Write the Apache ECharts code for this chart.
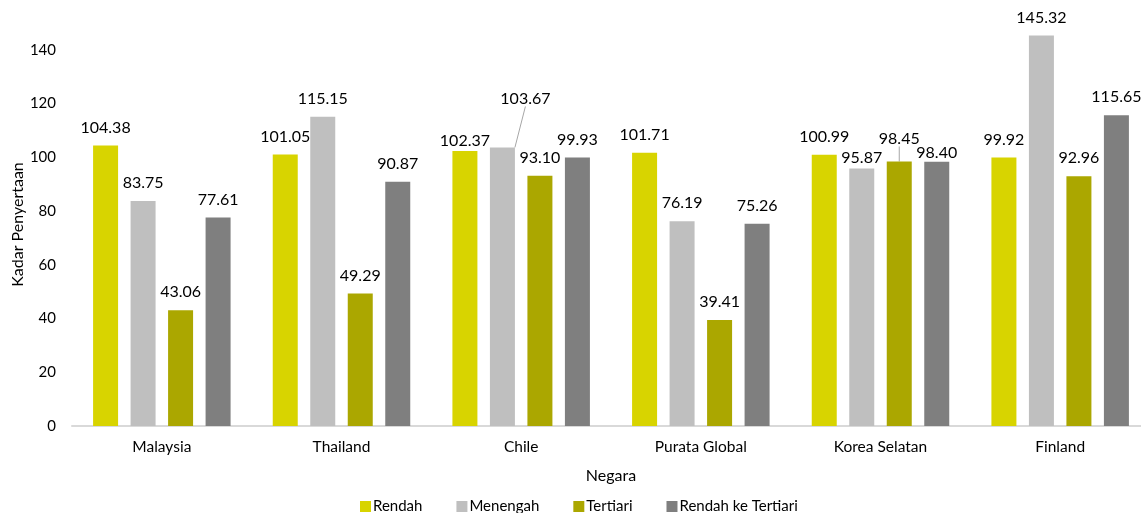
<!DOCTYPE html>
<html>
<head>
<meta charset="utf-8">
<script src="https://cdn.jsdelivr.net/npm/echarts@6/dist/echarts.min.js"></script>
<style>html,body{margin:0;padding:0;background:#fff}#c{width:1141px;height:513px}</style>
</head>
<body>
<div id="c"></div>
<script>
const categories = ['Malaysia', 'Thailand', 'Chile', 'Purata Global', 'Korea Selatan', 'Finland'];
const seriesNames = ['Rendah', 'Menengah', 'Tertiari', 'Rendah ke Tertiari'];
const rendah = [104.38, 101.05, 102.37, 101.71, 100.99, 99.92];
const menengah = [83.75, 115.15, 103.67, 76.19, 95.87, 145.32];
const tertiari = [43.06, 49.29, 93.10, 39.41, 98.45, 92.96];
const rendahKeTertiari = [77.61, 90.87, 99.93, 75.26, 98.40, 115.65];
const yTicks = [0, 20, 40, 60, 80, 100, 120, 140];

const colors = ['#D8D400', '#BFBFBF', '#ABA700', '#7F7F7F'];
const allData = [rendah, menengah, tertiari, rendahKeTertiari];
const FONT = 'Lato';

// manual label adjustments (series-dataIndex -> offset), leader lines where moved up far
const labelDy = {'0-2': 8, '1-2': -31, '1-4': 7, '2-4': -5, '3-4': 9};
const labelDx = {'1-2': 23};
const leader = {'1-2': true, '2-4': true};

const chart = echarts.init(document.getElementById('c'), null, {renderer: 'canvas'});
chart.setOption({
  animation: false,
  color: colors,
  grid: {left: 72, right: -9, top: 23, bottom: 87, containLabel: false, outerBoundsMode: 'none'},
  legend: {
    bottom: -6, left: 355,
    itemWidth: 11, itemHeight: 11, itemGap: 34,
    icon: 'rect',
    textStyle: {fontFamily: FONT, fontSize: 15, color: '#000', padding: [0, 0, 0, -3]},
    data: seriesNames
  },
  xAxis: {
    type: 'category', data: categories,
    name: 'Negara', nameLocation: 'middle', nameGap: 42, nameMoveOverlap: false,
    nameTextStyle: {fontFamily: FONT, fontSize: 16, color: '#000'},
    axisLine: {lineStyle: {color: '#D9D9D9', width: 2}},
    axisTick: {show: false},
    axisLabel: {fontFamily: FONT, fontSize: 15.5, color: '#000', margin: 13}
  },
  yAxis: {
    type: 'value', min: 0, max: 150, interval: 20,
    name: 'Kadar Penyertaan', nameLocation: 'middle', nameGap: 46, nameRotate: 90, nameMoveOverlap: false,
    nameTextStyle: {fontFamily: FONT, fontSize: 16, color: '#000'},
    axisLine: {show: false}, axisTick: {show: false}, splitLine: {show: false},
    axisLabel: {
      fontFamily: FONT, fontSize: 15, color: '#000', margin: 16, showMaxLabel: false,
      formatter: v => (yTicks.indexOf(v) >= 0 ? String(v) : '')
    }
  },
  series: allData.map((arr, si) => ({
    name: seriesNames[si],
    type: 'bar',
    barWidth: 25,
    barGap: '50%',
    data: arr.map((v, di) => {
      const key = si + '-' + di;
      if (leader[key]) return {value: v, labelLine: {show: true, lineStyle: {color: '#A6A6A6', width: 1}}};
      return v;
    }),
    label: {
      show: true, position: 'top', distance: 10,
      fontFamily: FONT, fontSize: 16, color: '#000',
      formatter: p => p.value.toFixed(2)
    },
    labelLayout: p => {
      const key = si + '-' + p.dataIndex;
      const o = {};
      if (labelDy[key]) o.dy = labelDy[key];
      if (labelDx[key]) o.dx = labelDx[key];
      return o;
    }
  }))
});
</script>
</body>
</html>
